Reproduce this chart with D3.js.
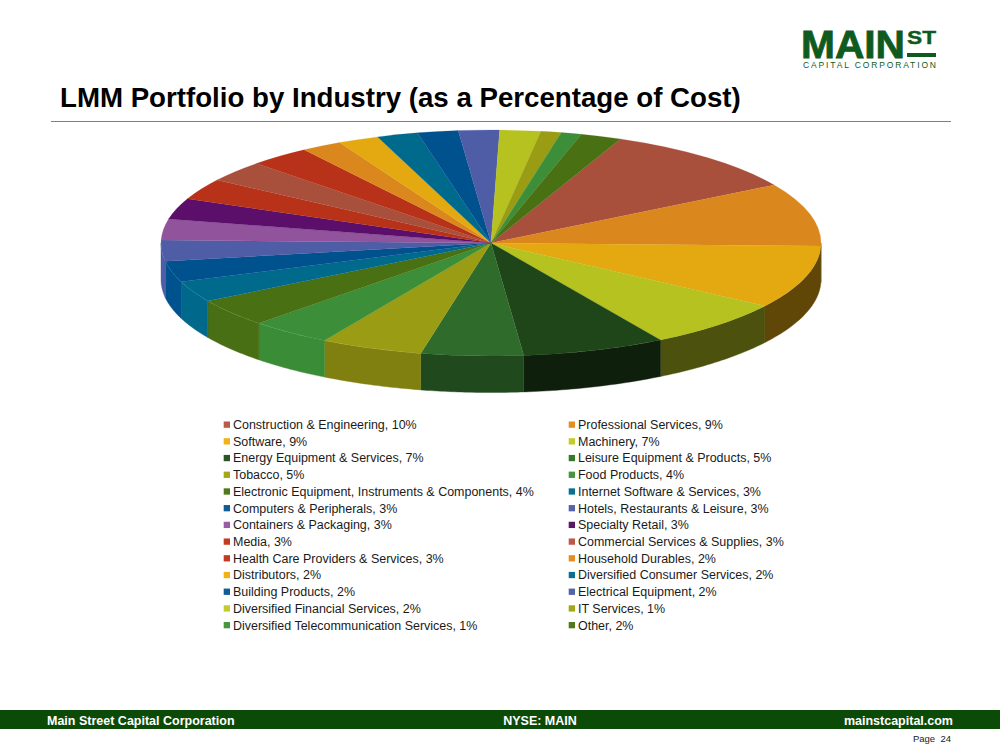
<!DOCTYPE html>
<html>
<head>
<meta charset="utf-8">
<script src="https://cdn.jsdelivr.net/npm/d3@7"></script>
<style>
  html, body { margin: 0; padding: 0; background: #fff; }
  svg { display: block; font-family: "Liberation Sans", Arial, sans-serif; }
</style>
</head>
<body>
<svg id="slide" width="1000" height="750"></svg>
<script>
// Chart data, in legend order (read left to right, then down)
const industries = [
  "Construction & Engineering", "Professional Services",
  "Software", "Machinery",
  "Energy Equipment & Services", "Leisure Equipment & Products",
  "Tobacco", "Food Products",
  "Electronic Equipment, Instruments & Components", "Internet Software & Services",
  "Computers & Peripherals", "Hotels, Restaurants & Leisure",
  "Containers & Packaging", "Specialty Retail",
  "Media", "Commercial Services & Supplies",
  "Health Care Providers & Services", "Household Durables",
  "Distributors", "Diversified Consumer Services",
  "Building Products", "Electrical Equipment",
  "Diversified Financial Services", "IT Services",
  "Diversified Telecommunication Services", "Other"
];
const percents = [10, 9, 9, 7, 7, 5, 5, 4, 4, 3, 3, 3, 3, 3, 3, 3, 3, 2, 2, 2, 2, 2, 2, 1, 1, 2];

// Colours of the top of each slice
const sliceColors = [
  "#a9503c", "#da871e", "#e4a811", "#b6c21f", "#1f4619", "#2f6b2a",
  "#9a9c14", "#3c8f38", "#4a7014", "#006a8c", "#00528f", "#4f5da6",
  "#91539c", "#5b0f6b", "#b8321a", "#a9503c", "#b8321a", "#da871e",
  "#e4a811", "#006a8c", "#00528f", "#4f5da6", "#b6c21f", "#9a9c14",
  "#3c8f38", "#4a7014"
];
// Legend swatches are a touch lighter than the slices
const legendColors = [
  "#bb5a48", "#e48f22", "#f2b118", "#c2cc2a", "#2c5527", "#37782f",
  "#a3a81a", "#46963f", "#4f7a1c", "#0b7090", "#0f5c96", "#5563ab",
  "#9a5ca5", "#5c1668", "#c23c22", "#bb5a48", "#c23c22", "#e48f22",
  "#f2b118", "#0b7090", "#0f5c96", "#5563ab", "#c2cc2a", "#a3a81a",
  "#46963f", "#4f7a1c"
];

const svg = d3.select("#slide");
const green = "#0c4a07";

// --- Header ---
const logo = svg.append("g").attr("fill", "#0f5a1e");
logo.append("text").attr("x", 801).attr("y", 57.5).attr("font-size", 38)
  .attr("font-weight", "bold").attr("stroke", "#0f5a1e").attr("stroke-width", 0.8)
  .attr("textLength", 104).attr("lengthAdjust", "spacingAndGlyphs").text("MAIN");
logo.append("text").attr("x", 907).attr("y", 44).attr("font-size", 19)
  .attr("font-weight", "bold").attr("stroke", "#0f5a1e").attr("stroke-width", 0.4)
  .attr("textLength", 29).attr("lengthAdjust", "spacingAndGlyphs").text("ST");
logo.append("rect").attr("x", 907).attr("y", 53).attr("width", 29).attr("height", 4);
logo.append("text").attr("x", 803).attr("y", 68).attr("font-size", 8.5)
  .attr("textLength", 133).text("CAPITAL CORPORATION");

svg.append("text").attr("x", 60).attr("y", 107).attr("font-size", 27.66)
  .attr("font-weight", "bold").attr("fill", "#000")
  .text("LMM Portfolio by Industry (as a Percentage of Cost)");
svg.append("line").attr("x1", 51).attr("x2", 951).attr("y1", 121.5).attr("y2", 121.5)
  .attr("stroke", "#7f7f7f").attr("stroke-width", 1);

// --- 3D pie ---
const cx = 491, cy = 243, rx = 330, ry = 113, depth = 36.5;
const startDeg = 23.1;

const slices = d3.pie().sort(null).value(d => d)
  .startAngle(startDeg * Math.PI / 180)
  .endAngle((startDeg + 360) * Math.PI / 180)(percents);

const px = a => cx + rx * Math.sin(a);
const py = a => cy - ry * Math.cos(a);

// side wall goes darker toward the right, as if lit from the left
const shade = d3.scaleLinear()
  .domain([cx - rx, 290, 372, 472, 595, 715, cx + rx])
  .range([1, 0.98, 0.82, 0.68, 0.46, 0.42, 0.42])
  .clamp(true);

const pie = svg.append("g");

// Front wall first, only the part of each slice below the horizontal
slices.forEach((s, i) => {
  const a0 = Math.max(s.startAngle, Math.PI / 2);
  const a1 = Math.min(s.endAngle, Math.PI * 1.5);
  if (a0 >= a1) return;
  const pts = d3.range(0, 31).map(k => a0 + (a1 - a0) * k / 30);
  const top = pts.map(a => [px(a), py(a)]);
  const bottom = pts.slice().reverse().map(a => [px(a), py(a) + depth]);

  const c = d3.rgb(sliceColors[i]);
  const f = shade(px((a0 + a1) / 2));
  const wall = d3.rgb(c.r * f, c.g * f, c.b * f).formatHex();

  pie.append("path")
    .attr("d", d3.line()(top.concat(bottom)) + "Z")
    .attr("fill", wall)
    .attr("stroke", wall)
    .attr("stroke-width", 0.4);
});

// Top face: ordinary arc squashed into an ellipse
const arc = d3.arc().innerRadius(0).outerRadius(rx);
pie.append("g")
  .attr("transform", `translate(${cx},${cy}) scale(1,${ry / rx})`)
  .selectAll("path")
  .data(slices)
  .join("path")
  .attr("d", arc)
  .attr("fill", (d, i) => sliceColors[i])
  .attr("stroke", (d, i) => sliceColors[i])
  .attr("stroke-width", 0.3);

// --- Legend, two columns ---
const col = d3.scalePoint().domain([0, 1]).range([223, 568]);
const row = d3.scalePoint().domain(d3.range(13)).range([424.5, 625]);

const legend = svg.append("g").selectAll("g")
  .data(industries)
  .join("g")
  .attr("transform", (d, i) => `translate(${col(i % 2)},${row(Math.floor(i / 2))})`);
legend.append("rect").attr("x", 0.7).attr("y", -3).attr("width", 6.3).attr("height", 6.3)
  .attr("fill", (d, i) => legendColors[i]);
legend.append("text").attr("x", 10).attr("y", 4.5).attr("font-size", 12.47).attr("fill", "#1a1a1a")
  .text((d, i) => `${d}, ${percents[i]}%`);

// --- Footer ---
svg.append("rect").attr("x", 0).attr("y", 710).attr("width", 1000).attr("height", 19).attr("fill", green);
const footer = svg.append("g").attr("fill", "#fff").attr("font-size", 12.5).attr("font-weight", "bold");
footer.append("text").attr("x", 47).attr("y", 725).text("Main Street Capital Corporation");
footer.append("text").attr("x", 540).attr("y", 725).attr("text-anchor", "middle").text("NYSE: MAIN");
footer.append("text").attr("x", 953).attr("y", 725).attr("text-anchor", "end").text("mainstcapital.com");
svg.append("text").attr("x", 951).attr("y", 742).attr("text-anchor", "end")
  .attr("font-size", 9.5).attr("fill", "#222").style("white-space", "pre").text("Page  24");
</script>
</body>
</html>
